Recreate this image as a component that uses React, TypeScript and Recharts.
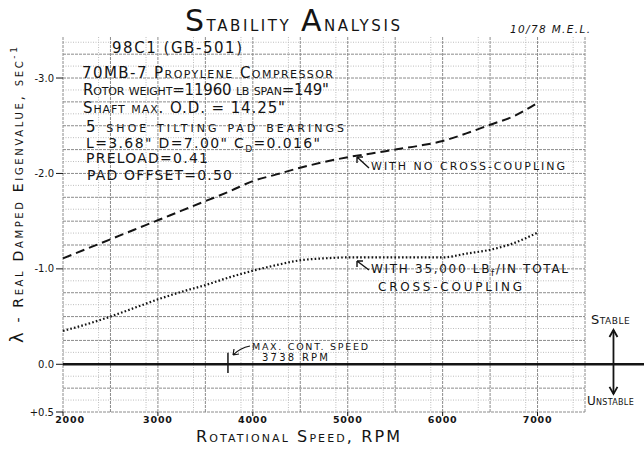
import { LineChart, Line, XAxis, YAxis, CartesianGrid, ReferenceLine } from "recharts";

// rotational speed, RPM
const rpm = [2000, 2250, 2500, 2750, 3000, 3250, 3500, 3750, 4000, 4250, 4500, 4750, 5000, 5250, 5500, 5750, 6000, 6250, 6500, 6750, 7000];
// real damped eigenvalue, sec^-1
const noCrossCoupling = [-1.11, -1.21, -1.31, -1.41, -1.51, -1.61, -1.71, -1.81, -1.92, -1.99, -2.06, -2.12, -2.17, -2.21, -2.25, -2.29, -2.34, -2.42, -2.51, -2.6, -2.74];
const withCrossCoupling = [-0.35, -0.42, -0.5, -0.59, -0.68, -0.76, -0.83, -0.91, -0.98, -1.04, -1.09, -1.11, -1.12, -1.12, -1.12, -1.12, -1.12, -1.16, -1.2, -1.27, -1.38];

const xTicks = [2000, 3000, 4000, 5000, 6000, 7000];
const yTicks = [-3, -2, -1, 0, 0.5];
const maxContSpeed = 3738;

const data = rpm.map((r, i) => ({ rpm: r, none: noCrossCoupling[i], coupled: withCrossCoupling[i] }));

// graph paper lines
const steps = (from: number, to: number, step: number) => {
  const out: number[] = [];
  for (let v = from; v <= to + 1e-9; v += step) out.push(+v.toFixed(4));
  return out;
};
const xMajor = steps(2000, 7500, 250);
const xMinor = steps(2125, 7375, 250);
const yMajor = [-3.43, ...steps(-3.25, 0.5, 0.25)];
const yMinor = steps(-3.375, 0.375, 0.25);

const font = "DejaVu Sans";
const ink = "#141414";

function DoubleArrow(props: any) {
  const { x1, y1, x2, y2 } = props;
  const top = Math.min(y1, y2);
  const bot = Math.max(y1, y2);
  return (
    <g stroke={ink} strokeWidth={1.8} fill="none">
      <line x1={x1} y1={top} x2={x2} y2={bot} />
      <path d={`M${x1 - 4} ${top + 7} L${x1} ${top} L${x1 + 4} ${top + 7}`} />
      <path d={`M${x1 - 4} ${bot - 7} L${x1} ${bot} L${x1 + 4} ${bot - 7}`} />
    </g>
  );
}

function XTick(props: any) {
  const { x, y, payload } = props;
  const dx = payload.value === 2000 ? 7 : 0;
  return (
    <text x={x + dx} y={y + 5} textAnchor="middle" fontFamily={font} fontSize={9.5} fontWeight="bold" fill={ink} letterSpacing={0.8}>
      {payload.value}
    </text>
  );
}

const sc = { fontVariant: "small-caps" } as const;
const plain = { fontVariant: "normal" } as const;

export default function App() {
  return (
    <div style={{ position: "absolute", left: 0, top: 0, width: 644, height: 449, background: "#fff" }}>
      <LineChart width={644} height={449} data={data} margin={{ top: 37, right: 59, left: 0, bottom: 0 }}>
        <CartesianGrid verticalValues={xMinor} horizontalValues={yMinor} stroke="#bdbdbd" strokeDasharray="1 1.5" />
        <CartesianGrid verticalValues={xMajor} horizontalValues={yMajor} stroke="#8c8c8c" strokeDasharray="3 1" />
        <XAxis
          dataKey="rpm" type="number" domain={[2000, 7500]} ticks={xTicks}
          height={37} axisLine={false} tickSize={4} tickLine={{ stroke: ink }} tick={<XTick />}
        />
        <YAxis
          type="number" reversed domain={[-3.43, 0.5]} ticks={yTicks} width={63}
          axisLine={false} tickSize={7} tickMargin={2} tickLine={{ stroke: ink }}
          tickFormatter={(v) => (v > 0 ? `+${v.toFixed(1)}` : v.toFixed(1))}
          tick={{ fontFamily: font, fontSize: 10, fill: ink }}
        />
        <ReferenceLine segment={[{ x: 2000, y: 0 }, { x: 8130, y: 0 }]} ifOverflow="visible" stroke={ink} strokeWidth={2.5} />
        <ReferenceLine segment={[{ x: maxContSpeed, y: -0.12 }, { x: maxContSpeed, y: 0.09 }]} stroke={ink} strokeWidth={1.5} />
        <ReferenceLine segment={[{ x: 7800, y: -0.36 }, { x: 7800, y: 0.31 }]} ifOverflow="visible" shape={<DoubleArrow />} />
        <Line dataKey="none" type="monotone" stroke={ink} strokeWidth={2} strokeDasharray="9 5" dot={false} isAnimationActive={false} />
        <Line dataKey="coupled" type="monotone" stroke={ink} strokeWidth={2.2} strokeDasharray="1.6 2.2" dot={false} isAnimationActive={false} />
      </LineChart>

      <svg width={644} height={449} style={{ position: "absolute", left: 0, top: 0, pointerEvents: "none" }} fontFamily={font} fill={ink}>
        <text x={185} y={31} fontSize={22} style={sc} textLength={215}>
          <tspan fontSize={30}>S</tspan>tability <tspan fontSize={30}>A</tspan>nalysis
        </text>
        <text x={510} y={33} fontSize={10.5} fontStyle="italic" textLength={80}>10/78 M.E.L.</text>

        <text x={112} y={53} fontSize={15} textLength={130}>98C1 (GB-501)</text>
        <text x={82} y={78} fontSize={15} style={sc} textLength={251}>70MB-7 Propylene Compressor</text>
        <text x={83} y={95} fontSize={15} style={sc} textLength={246}>Rotor weight=11960 lb span=149"</text>
        <text x={83} y={113} fontSize={15} style={sc} textLength={202}>Shaft max. O.D. = 14.25"</text>
        <text x={86} y={132} fontSize={15} style={sc} textLength={258}>5 shoe tilting pad bearings</text>
        <text x={86} y={148} fontSize={14} textLength={234}>
          L=3.68" D=7.00" C<tspan fontSize={9} dy={4}>D</tspan><tspan dy={-4}>=0.016"</tspan>
        </text>
        <text x={86} y={163} fontSize={14} textLength={122}>PRELOAD=0.41</text>
        <text x={87} y={180} fontSize={14} textLength={145}>PAD OFFSET=0.50</text>

        <path d="M369 168 L357 157 M357 157 L357 163 M357 157 L363 157" stroke={ink} strokeWidth={1.4} fill="none" />
        <text x={371} y={170} fontSize={11} textLength={194}>WITH NO CROSS-COUPLING</text>

        <path d="M369 270 L357 261 M357 261 L357 267 M357 261 L363 261" stroke={ink} strokeWidth={1.4} fill="none" />
        <text x={371} y={273} fontSize={12} textLength={197}>
          WITH 35,000 LB<tspan fontSize={9} dy={3}>f</tspan><tspan dy={-3}>/IN TOTAL</tspan>
        </text>
        <text x={378} y={291} fontSize={12} textLength={144}>CROSS-COUPLING</text>

        <path d="M250 346 Q240 348 233 355 M233 355 L234 349 M233 355 L239 354" stroke={ink} strokeWidth={1.2} fill="none" />
        <text x={252} y={350} fontSize={9.5} textLength={116}>MAX. CONT. SPEED</text>
        <text x={262} y={361} fontSize={10} textLength={66}>3738 RPM</text>

        <text x={591} y={324} fontSize={13} style={sc} letterSpacing={0.5}>Stable</text>
        <text x={587} y={405} fontSize={12} style={sc} letterSpacing={0.3}>Unstable</text>

        <text x={298} y={442} fontSize={16} textAnchor="middle" style={sc} textLength={204}>Rotational Speed, RPM</text>
        <text
          transform="translate(23 195) rotate(-90)" x={0} y={0} fontSize={14} textAnchor="middle"
          style={sc} textLength={296}
        >
          <tspan fontSize={18} style={plain}>λ</tspan> - Real Damped Eigenvalue, sec<tspan fontSize={9} dy={-6}>-1</tspan>
        </text>
      </svg>
    </div>
  );
}
